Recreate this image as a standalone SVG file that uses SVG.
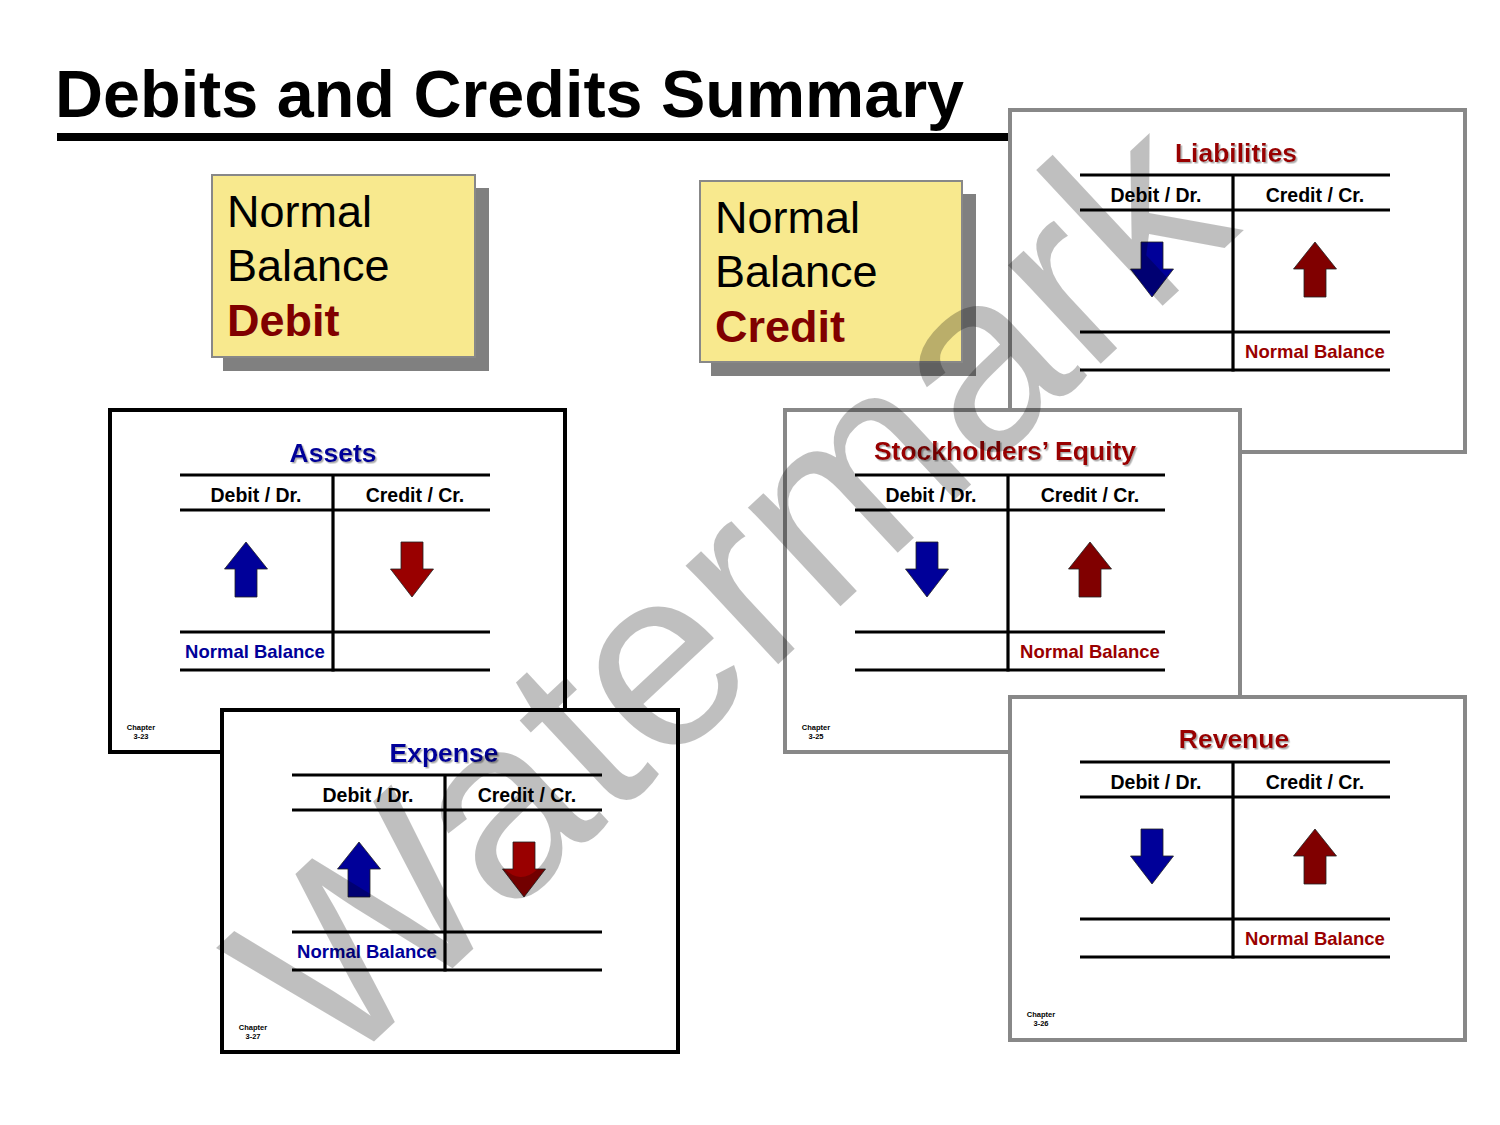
<svg xmlns="http://www.w3.org/2000/svg" width="1500" height="1125" viewBox="0 0 1500 1125">
<style>
text{font-family:"Liberation Sans",Arial,sans-serif}
.ttl{font-size:66.5px;font-weight:bold;fill:#000}
.big{font-size:45px;fill:#000}
.bigb{font-size:45px;font-weight:bold;fill:#800000}
.pt{font-size:26.5px;font-weight:bold;text-anchor:middle;filter:url(#ts)}
.red{fill:#990000}
.blue{fill:#000099}
.hd{font-size:19.5px;font-weight:bold;fill:#000;text-anchor:middle}
.nb{font-size:18.5px;font-weight:bold;text-anchor:middle}
.ch{font-size:7.5px;font-weight:bold;fill:#000;text-anchor:middle}
.pb{fill:#fff;stroke:#000;stroke-width:4}
.pg{fill:#fff;stroke:#888;stroke-width:4}
.tl{stroke:#000;stroke-width:3.2;fill:none}
.au{stroke:#222;stroke-width:0.8}
.wm{font-size:256px;fill:#000;fill-opacity:0.25}
</style>
<defs>
<filter id="ts" x="-10%" y="-30%" width="120%" height="160%">
<feDropShadow dx="1.5" dy="1.5" stdDeviation="0.4" flood-color="#999" flood-opacity="0.8"/>
</filter>
<path id="up" d="M0,0 L21.5,27 L11,27 L11,55 L-11,55 L-11,27 L-21.5,27 Z"/>
<path id="dn" d="M-11,0 L11,0 L11,27 L21.5,27 L0,55 L-21.5,27 L-11,27 Z"/>
<g id="tacct">
<line class="tl" x1="70" y1="65" x2="380" y2="65"/>
<line class="tl" x1="70" y1="100" x2="380" y2="100"/>
<line class="tl" x1="70" y1="222" x2="380" y2="222"/>
<line class="tl" x1="70" y1="260" x2="380" y2="260"/>
<line class="tl" x1="223" y1="65" x2="223" y2="261.5"/>
<text class="hd" x="146" y="92">Debit / Dr.</text>
<text class="hd" x="305" y="92">Credit / Cr.</text>
</g>
</defs>

<g id="title">
<text class="ttl" x="55" y="117">Debits and Credits Summary</text>
<rect x="57" y="133" width="953" height="8" fill="#000"/>
</g>

<g id="box-debit">
<rect x="223" y="188" width="266" height="183" fill="#808080"/>
<rect x="212" y="175" width="263" height="182" fill="#F8E98E" stroke="#888" stroke-width="2"/>
<text class="big" x="227" y="227">Normal</text>
<text class="big" x="227" y="281">Balance</text>
<text class="bigb" x="227" y="336">Debit</text>
</g>

<g id="box-credit">
<rect x="711" y="194" width="265" height="182" fill="#808080"/>
<rect x="700" y="181" width="262" height="181" fill="#F8E98E" stroke="#888" stroke-width="2"/>
<text class="big" x="715" y="233">Normal</text>
<text class="big" x="715" y="287">Balance</text>
<text class="bigb" x="715" y="342">Credit</text>
</g>

<g id="liabilities" transform="translate(1010,110)">
<rect class="pg" x="0" y="0" width="455" height="342"/>
<text class="pt red" x="226" y="52">Liabilities</text>
<use href="#tacct"/>
<use href="#dn" x="142" y="132" fill="#000099" class="au"/>
<use href="#up" x="305" y="132" fill="#800000" class="au"/>
<text class="nb red" x="305" y="248">Normal Balance</text>
</g>

<g id="assets" transform="translate(110,410)">
<rect class="pb" x="0" y="0" width="455" height="342"/>
<text class="pt blue" x="223" y="52">Assets</text>
<use href="#tacct"/>
<use href="#up" x="136" y="132" fill="#000099" class="au"/>
<use href="#dn" x="302" y="132" fill="#990000" class="au"/>
<text class="nb blue" x="145" y="248">Normal Balance</text>
<text class="ch" x="31" y="320">Chapter</text>
<text class="ch" x="31" y="329">3-23</text>
</g>

<g id="equity" transform="translate(785,410)">
<rect class="pg" x="0" y="0" width="455" height="342"/>
<text class="pt red" x="220" y="50">Stockholders’ Equity</text>
<use href="#tacct"/>
<use href="#dn" x="142" y="132" fill="#000099" class="au"/>
<use href="#up" x="305" y="132" fill="#800000" class="au"/>
<text class="nb red" x="305" y="248">Normal Balance</text>
<text class="ch" x="31" y="320">Chapter</text>
<text class="ch" x="31" y="329">3-25</text>
</g>

<g id="expense" transform="translate(222,710)">
<rect class="pb" x="0" y="0" width="456" height="342"/>
<text class="pt blue" x="222" y="52">Expense</text>
<use href="#tacct"/>
<use href="#up" x="137" y="132" fill="#000099" class="au"/>
<use href="#dn" x="302" y="132" fill="#990000" class="au"/>
<text class="nb blue" x="145" y="248">Normal Balance</text>
<text class="ch" x="31" y="320">Chapter</text>
<text class="ch" x="31" y="329">3-27</text>
</g>

<g id="revenue" transform="translate(1010,697)">
<rect class="pg" x="0" y="0" width="455" height="343"/>
<text class="pt red" x="224" y="51">Revenue</text>
<use href="#tacct"/>
<use href="#dn" x="142" y="132" fill="#000099" class="au"/>
<use href="#up" x="305" y="132" fill="#800000" class="au"/>
<text class="nb red" x="305" y="248">Normal Balance</text>
<text class="ch" x="31" y="320">Chapter</text>
<text class="ch" x="31" y="329">3-26</text>
</g>

<g id="connectors"></g>

<g id="watermark">
<text class="wm" text-anchor="middle" transform="translate(728,588) rotate(-43)" x="0" y="90">Watermark</text>
</g>
</svg>
